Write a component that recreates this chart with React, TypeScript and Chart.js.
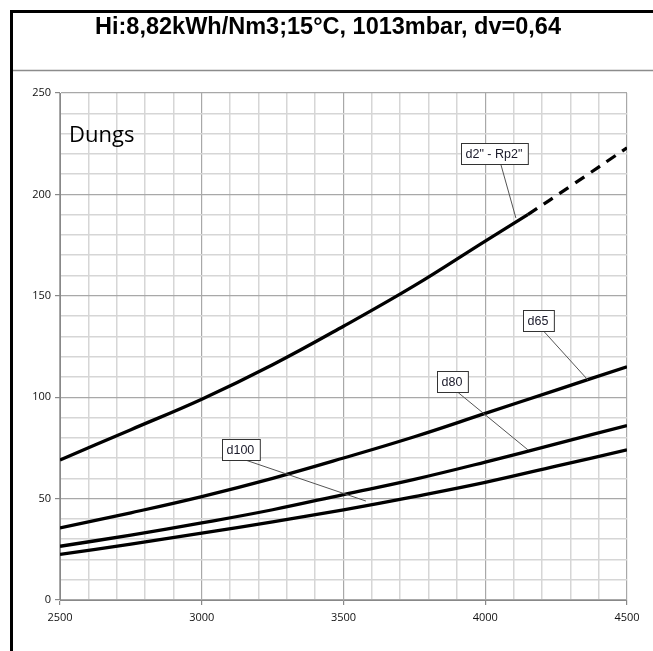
import React, { useEffect, useRef } from "react";
import { Chart, registerables } from "chart.js";

Chart.register(...registerables);

const titleText = "Hi:8,82kWh/Nm3;15°C, 1013mbar, dv=0,64";
const brandText = "Dungs";

const flowX = [2500, 2750, 3000, 3250, 3500, 3750, 4000, 4250, 4500];
const d2SolidX = [2500, 2750, 3000, 3250, 3500, 3750, 4000, 4150];
const d2SolidY = [69, 84, 99, 116, 135, 155, 177, 190];
const d2DashX = [4150, 4300, 4500];
const d2DashY = [190, 204, 223];
const d65Y = [35.5, 43, 51, 60, 70, 80.5, 92, 103.5, 115];
const d80Y = [26.5, 32, 38, 44.5, 52, 59.5, 68, 77, 86];
const d100Y = [22.5, 27.5, 33, 38.5, 44.5, 51, 58, 66, 74];

const xTickLabels = [2500, 3000, 3500, 4000, 4500];
const yTickLabels = [0, 50, 100, 150, 200, 250];

const calloutText = ['d2" - Rp2"', "d65", "d80", "d100"];
const calloutBoxX = [4034, 4186, 3883, 3138];
const calloutBoxY = [220, 137.6, 107.5, 74];
const calloutTipX = [4108, 4362, 4151, 3579];
const calloutTipY = [188.4, 108.5, 74, 48.8];

const pts = (xs: number[], ys: number[]) => xs.map((x, i) => ({ x, y: ys[i] }));

const framePlugin = {
  id: "frame",
  beforeDraw(chart: any) {
    const c = chart.ctx;
    c.save();
    c.fillStyle = "#ffffff";
    c.fillRect(0, 0, chart.width, chart.height);
    c.restore();
  },
  afterDraw(chart: any) {
    const c = chart.ctx;
    const xs = chart.scales.x;
    const ys = chart.scales.y;
    c.save();
    c.fillStyle = "#000";
    c.font = "bold 23.5px 'Liberation Sans', Arial, sans-serif";
    c.textAlign = "center";
    c.textBaseline = "middle";
    c.fillText(titleText, 328, 28);
    c.strokeStyle = "#8c8c8c";
    c.lineWidth = 1.5;
    c.beginPath();
    c.moveTo(12, 70.5);
    c.lineTo(chart.width, 70.5);
    c.stroke();
    c.fillStyle = "#000";
    c.fillRect(10, 10, chart.width - 10, 3);
    c.fillRect(10, 10, 3, chart.height - 10);
    c.font = "22px 'Open Sans', sans-serif";
    c.textAlign = "left";
    c.textBaseline = "alphabetic";
    c.fillStyle = "#000";
    c.fillText(brandText, 69, 142);
    c.font = "12.5px 'Liberation Sans', Arial, sans-serif";
    for (let i = 0; i < calloutText.length; i++) {
      const cx = xs.getPixelForValue(calloutBoxX[i]);
      const cy = ys.getPixelForValue(calloutBoxY[i]);
      const tx = xs.getPixelForValue(calloutTipX[i]);
      const ty = ys.getPixelForValue(calloutTipY[i]);
      const w = c.measureText(calloutText[i]).width + 10;
      const h = 21;
      const bx = Math.round(cx - w / 2) + 0.5;
      const by = Math.round(cy - h / 2) + 0.5;
      c.strokeStyle = "#555";
      c.lineWidth = 1;
      c.beginPath();
      c.moveTo(cx + 6, by + h);
      c.lineTo(tx, ty);
      c.stroke();
      c.fillStyle = "#fff";
      c.fillRect(bx, by, w, h);
      c.strokeStyle = "#333";
      c.strokeRect(bx, by, w, h);
      c.fillStyle = "#1a1a2a";
      c.textAlign = "left";
      c.textBaseline = "middle";
      c.fillText(calloutText[i], bx + 4, by + h / 2 + 1);
    }
    c.restore();
  },
};

export default function App() {
  const ref = useRef<HTMLCanvasElement | null>(null);
  useEffect(() => {
    document.body.style.margin = "0";
    const line = (data: any, dash: number[] = []) => ({
      data,
      borderColor: "#000",
      borderWidth: 3.3,
      borderDash: dash,
      pointRadius: 0,
      fill: false,
      tension: 0.4,
    });
    const chart = new Chart(ref.current as HTMLCanvasElement, {
      type: "line",
      data: {
        datasets: [
          line(pts(d2SolidX, d2SolidY)),
          line(pts(d2DashX, d2DashY), [11, 8]),
          line(pts(flowX, d65Y)),
          line(pts(flowX, d80Y)),
          line(pts(flowX, d100Y)),
        ],
      },
      options: {
        animation: false,
        responsive: false,
        maintainAspectRatio: false,
        layout: { padding: { left: 0, right: 26, top: 93, bottom: 0 } },
        plugins: { legend: { display: false }, tooltip: { enabled: false } },
        scales: {
          x: {
            type: "linear",
            min: 2500,
            max: 4500,
            afterFit: (s: any) => {
              s.height = 51;
            },
            afterBuildTicks: (s: any) => {
              const t = [];
              for (let v = 2500; v <= 4500; v += 100) t.push({ value: v });
              s.ticks = t;
            },
            ticks: {
              autoSkip: false,
              maxRotation: 0,
              padding: 6,
              color: "#111",
              font: { family: "'Open Sans', sans-serif", size: 11 },
              callback: (v: any) => (xTickLabels.includes(v) ? String(v) : ""),
            },
            border: { color: "#888", width: 1 },
            grid: {
              color: (ctx: any) => (ctx.tick && ctx.tick.value % 500 === 0 ? "#a8a8a8" : "#d6d6d6"),
              lineWidth: (ctx: any) => (ctx.tick && ctx.tick.value % 500 === 0 ? 1.2 : 1.5),
              tickColor: (ctx: any) => (ctx.tick && ctx.tick.value % 500 === 0 ? "#888" : "rgba(0,0,0,0)"),
              tickLength: 5,
            },
          },
          y: {
            type: "linear",
            min: 0,
            max: 250,
            afterFit: (s: any) => {
              s.width = 60;
            },
            afterBuildTicks: (s: any) => {
              const t = [];
              for (let v = 0; v <= 250; v += 10) t.push({ value: v });
              s.ticks = t;
            },
            ticks: {
              autoSkip: false,
              padding: 4,
              color: "#111",
              font: { family: "'Open Sans', sans-serif", size: 11 },
              callback: (v: any) => (yTickLabels.includes(v) ? String(v) : ""),
            },
            border: { color: "#888", width: 1 },
            grid: {
              color: (ctx: any) => (ctx.tick && ctx.tick.value % 50 === 0 ? "#a8a8a8" : "#d6d6d6"),
              lineWidth: (ctx: any) => (ctx.tick && ctx.tick.value % 50 === 0 ? 1.2 : 1.5),
              tickColor: (ctx: any) => (ctx.tick && ctx.tick.value % 50 === 0 ? "#888" : "rgba(0,0,0,0)"),
              tickLength: 5,
            },
          },
        },
      },
      plugins: [framePlugin],
    });
    return () => chart.destroy();
  }, []);
  return <canvas ref={ref} width={653} height={651} style={{ display: "block" }} />;
}
